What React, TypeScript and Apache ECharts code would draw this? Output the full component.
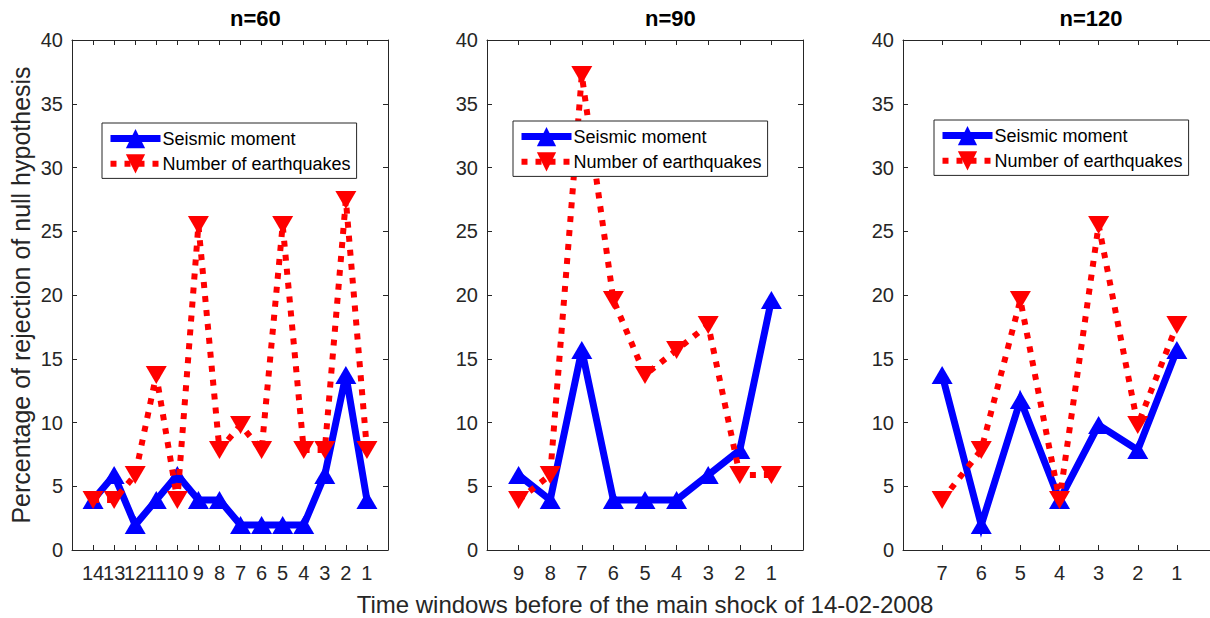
import React, { useEffect, useRef } from 'react';
import * as echarts from 'echarts';

const TITLES = ['n=60', 'n=90', 'n=120'];
const SERIES_NAMES = ['Seismic moment', 'Number of earthquakes'];
const X_LABEL = 'Time windows before of the main shock of 14-02-2008';
const Y_LABEL = 'Percentage of rejection of null hypothesis';

const WINDOWS_60 = [14, 13, 12, 11, 10, 9, 8, 7, 6, 5, 4, 3, 2, 1];
const SEISMIC_60 = [3.92, 5.88, 1.96, 3.92, 5.88, 3.92, 3.92, 1.96, 1.96, 1.96, 1.96, 5.88, 13.73, 3.92];
const QUAKES_60 = [3.92, 3.92, 5.88, 13.73, 3.92, 25.49, 7.84, 9.8, 7.84, 25.49, 7.84, 7.84, 27.45, 7.84];

const WINDOWS_90 = [9, 8, 7, 6, 5, 4, 3, 2, 1];
const SEISMIC_90 = [5.88, 3.92, 15.69, 3.92, 3.92, 3.92, 5.88, 7.84, 19.61];
const QUAKES_90 = [3.92, 5.88, 37.25, 19.61, 13.73, 15.69, 17.65, 5.88, 5.88];

const WINDOWS_120 = [7, 6, 5, 4, 3, 2, 1];
const SEISMIC_120 = [13.73, 1.96, 11.76, 3.92, 9.8, 7.84, 15.69];
const QUAKES_120 = [3.92, 7.84, 19.61, 3.92, 25.49, 9.8, 17.65];

const Y_MIN = 0;
const Y_MAX = 40;
const Y_STEP = 5;

const PANELS = [
  { windows: WINDOWS_60, seismic: SEISMIC_60, quakes: QUAKES_60 },
  { windows: WINDOWS_90, seismic: SEISMIC_90, quakes: QUAKES_90 },
  { windows: WINDOWS_120, seismic: SEISMIC_120, quakes: QUAKES_120 },
];

const LAYOUT = [
  { left: 72, width: 316, legendLeft: 102, legendTop: 123 },
  { left: 487, width: 316, legendLeft: 513, legendTop: 121 },
  { left: 903, width: 313, legendLeft: 934, legendTop: 120 },
];

const FONT = '"Liberation Sans", Arial, Helvetica, sans-serif';
const AXIS_COLOR = '#262626';
const TOP = 40;
const BOTTOM = 68;

export default function App() {
  const ref = useRef<HTMLDivElement>(null);
  useEffect(() => {
    if (!ref.current) return;
    const chart = echarts.init(ref.current, null, { renderer: 'svg' });
    const grid: any[] = [];
    const xAxis: any[] = [];
    const yAxis: any[] = [];
    const series: any[] = [];
    const legend: any[] = [];
    const graphic: any[] = [];

    PANELS.forEach((p, i) => {
      const L = LAYOUT[i];
      const n = p.windows.length;
      grid.push({
        left: L.left,
        width: L.width,
        top: TOP,
        bottom: BOTTOM,
        containLabel: false,
        outerBoundsMode: 'none',
      });
      const baseX = {
        type: 'value',
        gridIndex: i,
        min: 0,
        max: n + 1,
        interval: 1,
        splitLine: { show: false },
        axisLine: { show: true, onZero: false, lineStyle: { color: AXIS_COLOR, width: 1 } },
        axisTick: { show: true, inside: true, length: 5, lineStyle: { color: AXIS_COLOR } },
      };
      xAxis.push({
        ...baseX,
        position: 'bottom',
        axisLabel: {
          show: true,
          margin: 13,
          fontSize: 20,
          fontFamily: FONT,
          color: AXIS_COLOR,
          showMinLabel: true,
          showMaxLabel: true,
          formatter: (v: number) => (v >= 1 && v <= n ? String(p.windows[v - 1]) : ''),
        },
        ...(i === 1
          ? {
              name: X_LABEL,
              nameLocation: 'middle',
              nameGap: 42,
              nameTextStyle: { fontSize: 24, lineHeight: 24, fontFamily: FONT, color: AXIS_COLOR },
            }
          : {}),
      });
      xAxis.push({ ...baseX, position: 'top', axisLabel: { show: false } });
      const baseY = {
        type: 'value',
        gridIndex: i,
        min: Y_MIN,
        max: Y_MAX,
        interval: Y_STEP,
        splitLine: { show: false },
        axisLine: { show: true, onZero: false, lineStyle: { color: AXIS_COLOR, width: 1 } },
        axisTick: { show: true, inside: true, length: 5, lineStyle: { color: AXIS_COLOR } },
      };
      yAxis.push({
        ...baseY,
        position: 'left',
        axisLabel: { show: true, margin: 9, fontSize: 20, fontFamily: FONT, color: AXIS_COLOR },
        ...(i === 0
          ? {
              name: Y_LABEL,
              nameLocation: 'middle',
              nameGap: 39,
              nameTextStyle: { fontSize: 25, fontFamily: FONT, color: AXIS_COLOR },
            }
          : {}),
      });
      yAxis.push({ ...baseY, position: 'right', axisLabel: { show: false } });

      series.push({
        name: SERIES_NAMES[0],
        type: 'line',
        xAxisIndex: 2 * i,
        yAxisIndex: 2 * i,
        data: p.seismic.map((v, j) => [j + 1, v]),
        symbol: 'triangle',
        symbolSize: [21, 18],
        itemStyle: { color: '#0000ff' },
        lineStyle: { color: '#0000ff', width: 7, join: 'miter' },
        z: 2,
      });
      series.push({
        name: SERIES_NAMES[1],
        type: 'line',
        xAxisIndex: 2 * i,
        yAxisIndex: 2 * i,
        data: p.quakes.map((v, j) => [j + 1, v]),
        symbol: 'triangle',
        symbolRotate: 180,
        symbolSize: [21, 18],
        itemStyle: { color: '#ff0000' },
        lineStyle: { color: '#ff0000', width: 6, type: [6, 8], cap: 'butt' },
        z: 3,
      });

      legend.push({
        left: L.legendLeft,
        top: L.legendTop,
        orient: 'vertical',
        data: SERIES_NAMES,
        backgroundColor: '#ffffff',
        borderColor: AXIS_COLOR,
        borderWidth: 1,
        borderRadius: 0,
        padding: [6, 6, 5, 5],
        itemGap: 6,
        itemWidth: 50,
        itemHeight: 24,
        selectedMode: false,
        lineStyle: { width: 'inherit', type: 'inherit' },
        textStyle: { fontSize: 18, fontFamily: FONT, color: '#000000', padding: [0, 0, 0, -3] },
      });

      graphic.push({
        type: 'text',
        left: L.left + L.width / 2,
        top: 7,
        style: {
          text: TITLES[i],
          fontSize: 22,
          fontWeight: 'bold',
          fontFamily: FONT,
          fill: '#000000',
          textAlign: 'center',
        },
      });
    });

    chart.setOption({
      animation: false,
      backgroundColor: '#ffffff',
      grid,
      xAxis,
      yAxis,
      series,
      legend,
      graphic,
    });
    return () => chart.dispose();
  }, []);
  return (
    <div
      ref={ref}
      style={{ position: 'fixed', left: 0, top: 0, width: 1210, height: 618, background: '#fff' }}
    />
  );
}
